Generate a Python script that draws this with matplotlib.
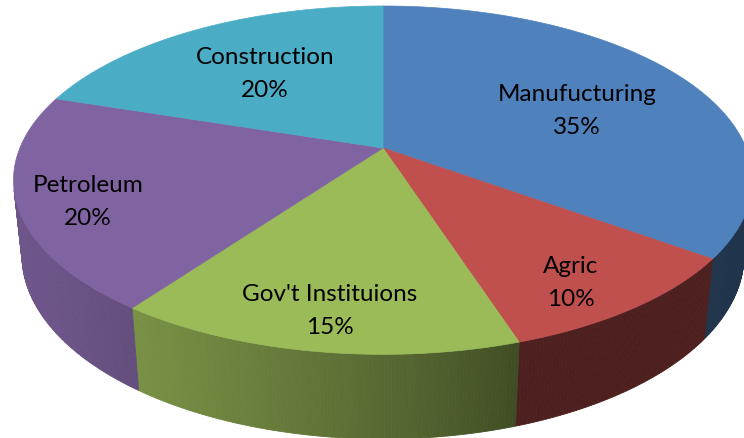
import numpy as np
import matplotlib.pyplot as plt
from matplotlib.patches import Polygon

# data
categories = ['Manufucturing', 'Agric', "Gov't Instituions", 'Petroleum', 'Construction']
shares = [35, 10, 15, 20, 20]
top_colors = ['#4F81BD', '#C0504D', '#9BBB59', '#8064A2', '#4BACC6']

# label centres in pixels
label_xy = [(577, 111), (571, 283), (330, 311), (88, 202), (265, 74)]

# camera for the 3d pie, fitted to the picture (pixels)
cx, cy = 383, 149
phi = np.radians(27.6)
L = 4.80
F = 1743
H = 0.235


def project(u, v, z):
    depth = L - v * np.cos(phi) - z * np.sin(phi)
    x = cx + F * u / depth
    y = cy + F * (v * np.sin(phi) - z * np.cos(phi)) / depth
    return x, y


def rim(theta, z):
    # theta clockwise from the far side of the pie
    return project(np.sin(theta), -np.cos(theta), z)


def shade(x):
    # side walls get darker from left to right
    t = np.clip((520 - x) / 500, 0, 1)
    return 0.40 + 0.46 * t ** 0.8


fig = plt.figure(figsize=(7.44, 4.39), dpi=100)
ax = fig.add_axes([0, 0, 1, 1])
ax.set_xlim(0, 744)
ax.set_ylim(439, 0)
ax.axis('off')

fracs = np.array(shares) / np.sum(shares)
edges = np.concatenate([[0], np.cumsum(fracs)]) * 2 * np.pi

# visible part of the outer wall
v_min = 1 / (L * np.cos(phi))
t_lo = np.arccos(-v_min)
t_hi = 2 * np.pi - t_lo

# side walls
for i, col in enumerate(top_colors):
    a0 = max(edges[i], t_lo)
    a1 = min(edges[i + 1], t_hi)
    if a1 <= a0:
        continue
    base = np.array(plt.matplotlib.colors.to_rgb(col))
    ts = np.linspace(a0, a1, int(np.degrees(a1 - a0)) * 2 + 2)
    for t0, t1 in zip(ts[:-1], ts[1:]):
        x0, y0 = rim(t0, 0)
        x1, y1 = rim(t1, 0)
        x2, y2 = rim(t1, -H)
        x3, y3 = rim(t0, -H)
        c = np.clip(base * shade((x0 + x1) / 2), 0, 1)
        ax.add_patch(Polygon([(x0, y0), (x1, y1), (x2, y2), (x3, y3)],
                             closed=True, facecolor=c, edgecolor=c, lw=0.6))

# top faces
for i, col in enumerate(top_colors):
    ts = np.linspace(edges[i], edges[i + 1], 200)
    xs, ys = rim(ts, 0)
    pts = [project(0, 0, 0)] + list(zip(xs, ys))
    ax.add_patch(Polygon(pts, closed=True, facecolor=col, edgecolor=col, lw=0.5))

# labels
for name, s, (lx, ly) in zip(categories, shares, label_xy):
    ax.text(lx, ly, f'{name}\n{s}%', ha='center', va='center', fontsize=17.5,
            family='Lato', color='black', linespacing=1.65)

fig.savefig('out.png', dpi=100)
